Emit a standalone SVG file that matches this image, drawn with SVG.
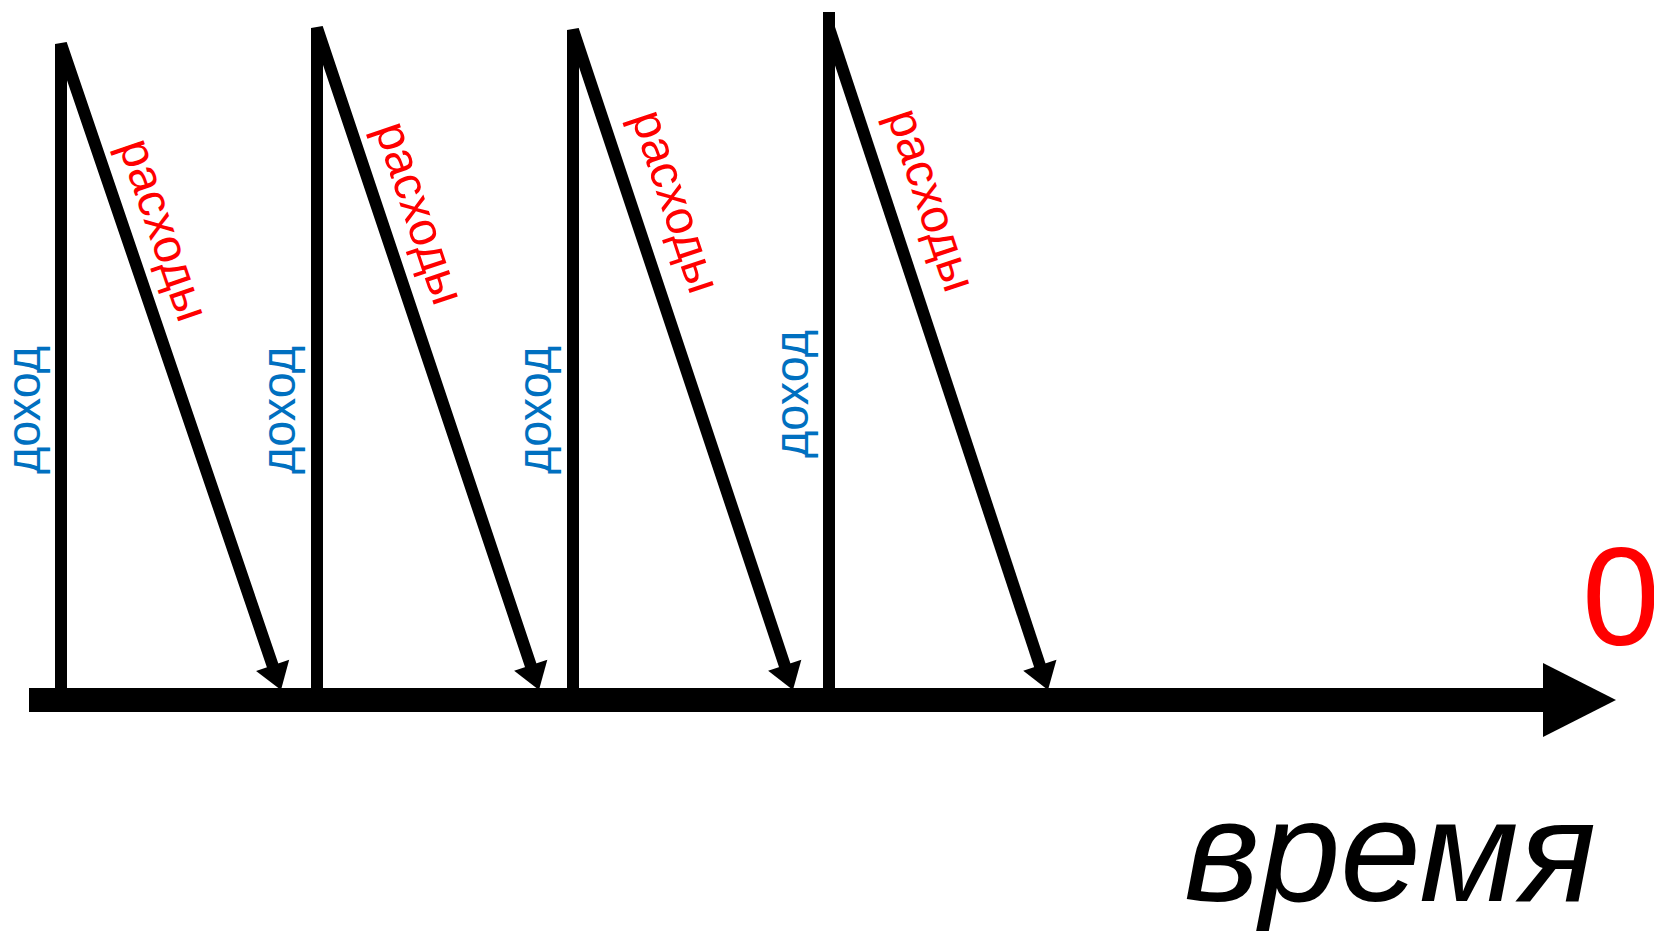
<svg xmlns="http://www.w3.org/2000/svg" width="1654" height="931" viewBox="0 0 1654 931">
<style>
.cn{fill:none;stroke:#000;stroke-width:12}
.inc{font-family:"Liberation Sans",Arial,sans-serif;font-size:49px;fill:#0070c0}
.exp{font-family:"Liberation Sans",Arial,sans-serif;font-size:48px;fill:#ff0000}
</style>
<defs>
<marker id="ah" markerUnits="userSpaceOnUse" orient="auto" refX="0" refY="0" viewBox="-5 -20 30 40" markerWidth="30" markerHeight="40" overflow="visible">
<path d="M22,0 L-4,-17.5 L-4,17.5 Z" fill="#000"/>
</marker>
</defs>
<rect width="1654" height="931" fill="#fff"/>
<g id="connectors">
<polyline class="cn" points="61,700 61,44 273.9,669.2" marker-end="url(#ah)"/>
<polyline class="cn" points="317,700 317,28 532,669.1" marker-end="url(#ah)"/>
<polyline class="cn" points="573,700 573,30 786,669.1" marker-end="url(#ah)"/>
<line class="cn" x1="829" y1="700" x2="829" y2="12"/>
<line class="cn" x1="829" y1="28" x2="1041.1" y2="669.1" marker-end="url(#ah)"/>
</g>
<g id="axis">
<line x1="29" y1="700" x2="1545" y2="700" stroke="#000" stroke-width="24"/>
<polygon points="1543,663 1616,700 1543,737" fill="#000"/>
</g>
<g id="labels-income">
<text class="inc" transform="translate(40,474) rotate(-90)" textLength="128" lengthAdjust="spacingAndGlyphs">доход</text>
<text class="inc" transform="translate(295,474) rotate(-90)" textLength="128" lengthAdjust="spacingAndGlyphs">доход</text>
<text class="inc" transform="translate(551,474) rotate(-90)" textLength="128" lengthAdjust="spacingAndGlyphs">доход</text>
<text class="inc" transform="translate(808,458) rotate(-90)" textLength="128" lengthAdjust="spacingAndGlyphs">доход</text>
</g>
<g id="labels-expense">
<text class="exp" transform="translate(118.4,145.5) rotate(71.2)">расходы</text>
<text class="exp" transform="translate(374.4,128.5) rotate(71.4)">расходы</text>
<text class="exp" transform="translate(631.1,116.8) rotate(71.6)">расходы</text>
<text class="exp" transform="translate(886.7,115.2) rotate(71.7)">расходы</text>
</g>
<g id="zero">
<text x="1582" y="645" font-family="Liberation Sans,Arial,sans-serif" font-size="140" fill="#ff0000">0</text>
</g>
<g id="time">
<text x="1184" y="901" font-family="Liberation Sans,Arial,sans-serif" font-size="145" font-style="italic" fill="#000">время</text>
</g>
</svg>
